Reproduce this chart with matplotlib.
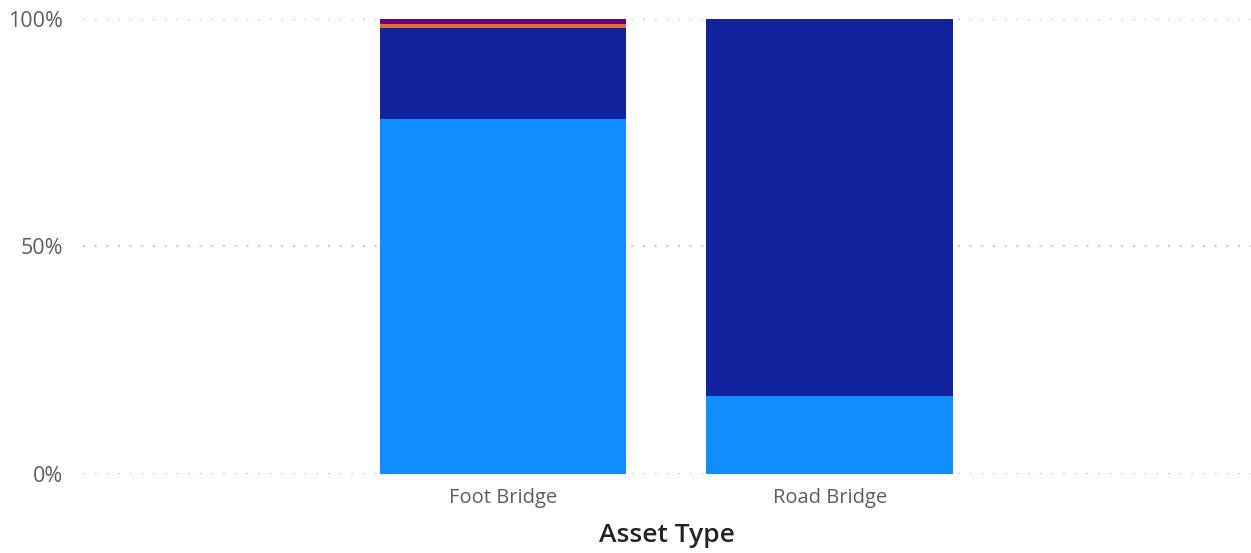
import matplotlib
matplotlib.use("Agg")
import matplotlib.pyplot as plt
import numpy as np

categories = ["Foot Bridge", "Road Bridge"]
# share of each segment (percent), bottom to top
light_blue = [78.0, 17.1]
dark_blue = [20.0, 82.9]
orange = [1.0, 0.0]
purple = [1.0, 0.0]

series = [light_blue, dark_blue, orange, purple]
colors = ["#118DFF", "#12239E", "#E66C37", "#6B007B"]

plt.rcParams['font.family'] = ['Open Sans', 'DejaVu Sans']

fig = plt.figure(figsize=(12.51, 5.53), dpi=100)
ax = fig.add_axes([0.066, 0.1429, 0.934, 0.8227])

x = np.arange(len(categories))
bottom = np.zeros(len(categories))
for vals, c in zip(series, colors):
    v = np.array(vals)
    ax.bar(x, v, bottom=bottom, width=0.755, color=c, zorder=2)
    bottom += v

ax.set_ylim(0, 100)
ax.set_xlim(-1.287, 2.29)
ax.set_yticks([0, 50, 100])
ax.set_yticklabels(["0%", "50%", "100%"])
ax.set_xticks(x)
ax.set_xticklabels(categories)

ax.grid(axis='y', color='#C8C6C4', linestyle=(0, (1, 5)), linewidth=1.4, zorder=0)
ax.set_axisbelow(True)
for s in ax.spines.values():
    s.set_visible(False)
ax.tick_params(axis='both', length=0, colors='#605E5C')
ax.tick_params(axis='y', pad=14, labelsize=15.5)
ax.tick_params(axis='x', pad=10, labelsize=14.5)
ax.set_xlabel("Asset Type", fontsize=19, color='#252423', fontweight='semibold', labelpad=11)

fig.savefig("out.png", dpi=100)
